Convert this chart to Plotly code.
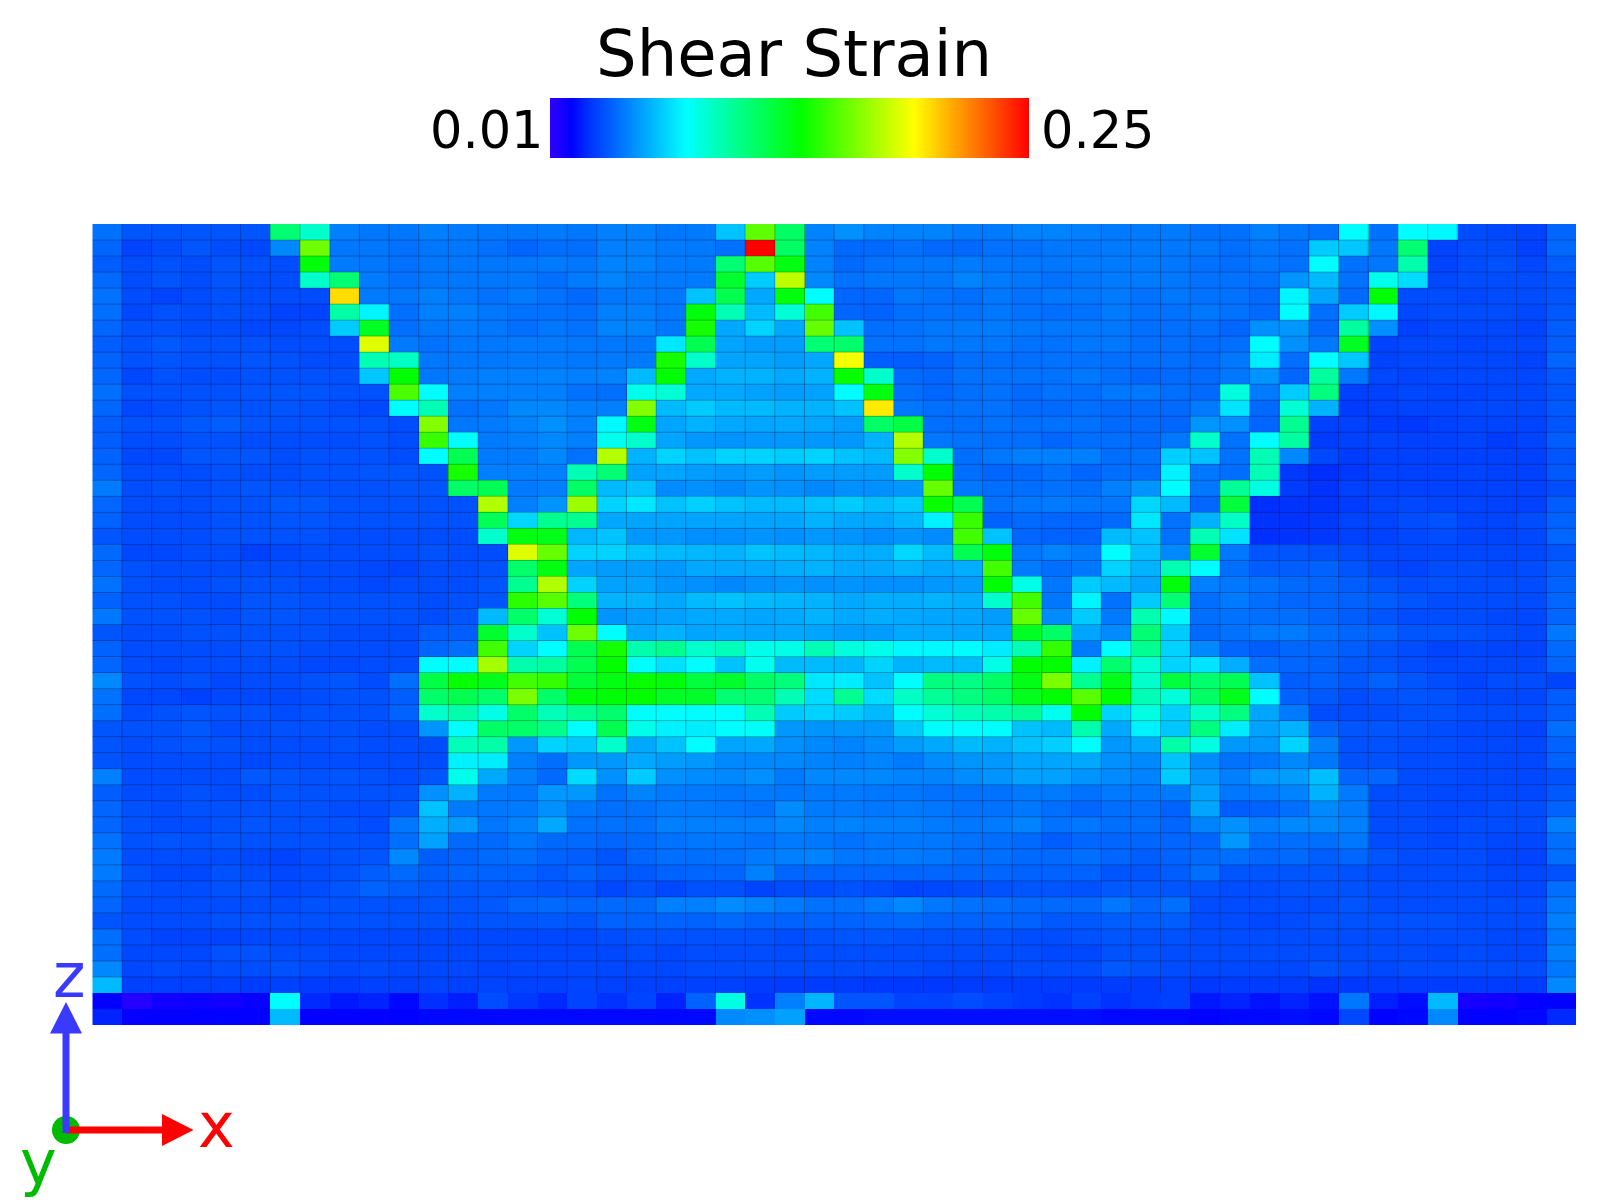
import plotly.graph_objects as go
import numpy as np

# Shear strain per cell, in thousandths (columns 0-16 | 17-33 | 34-49)
strain_milli = [
[45,38,38,38,38,38,110,90,48,46,46,48,47,46,46,47,46, 48,48,46,47,64,157,113,49,52,49,49,49,47,47,49,49,48, 47,47,47,45,45,48,46,45,78,45,78,77,36,35,34,42],
[42,34,36,38,36,35,50,160,46,46,45,46,46,45,42,44,44, 48,48,47,47,45,250,113,49,43,43,45,43,43,45,45,46,46, 47,47,46,46,44,46,45,66,65,46,110,34,36,36,33,43],
[40,36,37,36,38,37,36,133,47,46,45,46,46,46,46,47,46, 49,49,47,47,110,155,132,49,43,45,46,46,47,46,46,46,47, 47,47,46,45,44,46,45,78,45,46,97,34,36,37,35,40],
[43,36,38,36,38,36,36,90,110,47,45,46,46,46,46,44,47, 49,47,47,47,125,66,178,50,45,46,46,46,49,47,46,45,46, 47,47,46,45,45,45,53,62,45,83,70,35,36,36,36,38],
[45,36,34,36,37,36,36,36,200,47,46,48,46,45,47,45,43, 46,47,46,64,118,58,133,78,42,42,46,45,44,46,45,46,46, 47,45,46,45,45,43,76,57,43,134,36,36,35,36,36,38],
[44,35,37,36,37,36,34,34,98,76,44,48,48,46,45,45,44, 48,48,46,133,95,62,88,150,42,41,44,45,45,46,45,44,45, 47,45,45,46,45,43,78,44,66,77,35,36,36,36,35,39],
[42,37,37,36,36,35,35,36,66,128,44,46,47,46,44,46,45, 49,49,46,140,58,68,58,158,64,44,45,46,47,47,46,46,46, 46,44,44,44,42,52,54,43,100,52,33,35,35,35,34,40],
[40,37,39,37,37,37,36,36,36,185,47,45,46,46,47,47,46, 46,46,73,118,57,55,55,110,112,45,45,46,46,46,45,45,46, 46,44,44,43,44,78,52,46,128,34,35,35,34,35,35,40],
[41,37,38,37,37,38,37,36,36,95,92,46,46,46,47,47,46, 47,47,140,90,57,57,55,58,190,40,40,41,44,44,44,45,45, 44,44,44,43,46,74,44,78,65,34,35,35,35,35,34,42],
[42,35,37,36,36,37,37,37,37,65,135,46,47,48,48,49,48, 49,62,135,58,60,60,58,60,137,90,43,42,45,45,45,45,46, 44,42,43,43,46,53,42,100,46,35,34,35,35,35,35,39],
[44,37,37,37,37,38,38,38,37,37,152,78,48,48,48,48,45, 44,83,88,58,58,56,55,56,78,132,44,42,44,45,43,45,44, 46,46,44,43,86,47,66,107,33,33,35,34,34,35,35,38],
[42,35,36,37,38,37,38,37,36,35,78,95,45,46,50,50,48, 48,165,62,66,62,62,60,60,64,197,46,44,45,45,43,43,44, 43,43,43,47,72,43,88,60,32,33,34,34,35,35,35,39],
[40,37,37,39,40,38,37,37,37,37,36,165,46,47,49,52,48, 77,132,57,60,58,57,58,57,55,113,120,44,44,45,44,45,45, 43,43,42,53,52,42,103,33,33,32,31,33,34,34,34,38],
[40,36,36,37,37,36,36,36,36,37,36,148,78,47,48,50,48, 82,90,57,54,53,54,54,54,54,60,175,46,45,44,44,42,44, 44,43,46,90,45,78,100,32,33,34,33,33,34,32,34,40],
[41,35,35,38,38,38,36,37,37,37,36,78,117,47,47,50,45, 175,60,68,64,68,68,66,68,64,62,165,90,44,46,48,48,48, 44,45,67,64,45,95,50,35,32,33,33,33,33,33,33,38],
[42,36,36,36,37,36,36,37,37,38,38,37,140,48,48,48,95, 110,56,57,55,54,55,53,55,55,55,90,135,44,42,43,45,42, 44,44,75,46,44,95,31,29,31,33,33,33,34,33,33,39],
[47,36,37,36,37,38,37,37,37,37,38,38,113,117,47,48,113, 62,64,51,52,50,53,52,50,52,52,54,158,46,44,44,45,44, 48,53,78,46,102,85,32,30,33,33,33,33,33,33,33,36],
[42,36,36,36,37,37,39,39,37,37,37,37,37,175,48,53,170, 68,73,64,67,64,62,62,64,66,63,66,137,117,45,46,47,46, 46,69,62,42,122,29,30,30,32,34,35,34,34,33,33,40],
[41,36,36,36,37,37,38,38,37,37,37,37,37,116,69,103,103, 58,57,57,57,57,57,57,60,58,58,61,75,148,41,43,42,42, 43,73,45,60,92,30,30,31,34,34,36,37,34,34,36,41],
[38,36,36,36,37,37,37,37,36,36,36,36,36,90,132,130,61, 64,54,54,52,52,53,52,54,53,51,53,51,150,64,42,41,41, 62,64,45,95,72,29,30,31,33,33,35,36,34,34,35,42],
[43,35,35,36,36,33,35,36,36,36,36,37,36,36,185,158,68, 68,64,62,61,60,64,62,61,59,59,69,62,117,133,46,49,47, 78,63,50,125,46,38,38,37,36,35,35,35,35,35,35,38],
[42,37,36,36,36,36,36,36,36,35,34,36,36,37,112,132,57, 55,55,54,58,58,58,59,60,58,58,60,58,59,150,47,44,46, 68,60,96,78,44,40,40,41,38,35,34,36,36,35,36,40],
[45,37,36,36,37,37,37,36,36,35,36,36,36,38,103,175,68, 56,56,53,52,50,52,53,52,53,52,52,54,55,135,84,46,66, 62,57,133,48,46,45,43,42,40,38,36,37,36,36,36,41],
[41,37,37,36,36,38,38,37,37,37,37,36,37,38,145,155,108, 60,60,58,62,64,62,61,60,58,59,59,60,59,90,150,46,76, 45,66,110,44,47,44,42,42,41,40,38,36,36,36,36,42],
[46,37,37,37,36,38,38,37,37,37,37,36,38,62,112,88,135, 53,55,56,58,58,57,58,60,58,59,58,57,57,55,158,51,66, 47,96,77,44,45,44,44,42,40,38,36,36,36,35,35,42],
[38,36,36,37,37,37,37,37,36,36,36,40,40,125,90,64,160, 78,58,60,57,58,57,58,57,55,55,58,58,57,57,128,113,57, 51,110,66,43,45,47,47,44,42,41,38,38,37,36,35,46],
[41,36,36,36,36,37,37,36,36,36,36,42,44,150,68,78,117, 140,97,103,90,94,83,84,95,86,83,77,77,78,74,95,147,47, 78,103,68,50,42,40,42,42,40,38,36,34,35,34,34,43],
[42,36,35,36,36,36,36,35,35,36,36,78,78,172,97,100,118, 136,78,71,78,64,82,62,62,61,68,60,62,62,84,135,136,75, 111,88,68,72,59,44,42,41,39,38,36,35,35,35,35,42],
[50,37,36,37,35,36,36,37,38,36,44,120,137,130,150,147,123, 132,137,133,122,126,113,108,73,74,64,78,107,106,113,131,163,103, 130,90,122,111,117,64,40,41,39,41,38,36,34,36,36,34],
[45,35,35,33,35,35,35,36,37,37,40,112,118,112,163,112,133, 134,136,127,126,110,110,95,70,103,70,91,102,107,113,129,135,155, 136,95,87,113,130,78,41,39,36,37,38,37,35,35,35,40],
[44,36,37,38,37,37,36,37,37,37,41,90,97,84,112,94,103, 111,78,78,78,78,95,66,68,66,62,78,88,94,97,102,82,135, 68,85,67,90,107,57,47,36,36,36,37,37,36,36,36,40],
[38,37,37,39,36,36,37,37,37,36,36,53,78,113,112,104,78, 118,83,75,74,78,80,54,53,54,54,66,78,78,78,64,62,97, 58,75,65,107,74,56,60,42,38,38,37,36,35,35,34,44],
[38,36,37,38,37,36,36,36,37,36,36,36,94,98,54,68,65, 90,58,64,78,57,58,52,50,49,51,55,58,62,60,64,67,78, 54,58,98,85,54,54,68,48,37,37,36,36,35,35,35,41],
[38,36,36,36,36,35,36,36,36,36,36,36,75,74,48,44,54, 54,58,55,54,50,50,50,49,48,49,47,51,53,54,57,57,58, 52,50,64,51,45,46,50,46,37,37,36,36,35,35,35,41],
[48,36,36,36,36,39,38,37,38,37,36,38,83,58,48,43,70, 52,66,52,51,50,52,47,50,50,50,49,49,51,53,56,56,53, 51,49,66,54,48,54,55,63,42,42,36,36,35,35,35,37],
[40,36,36,37,36,36,38,37,37,37,37,52,60,47,46,54,54, 45,49,47,47,46,47,46,47,47,46,46,45,45,45,47,47,45, 47,46,47,56,46,47,49,60,47,36,36,35,35,35,35,39],
[42,37,36,37,37,37,37,37,36,36,39,64,47,46,47,52,46, 44,45,47,47,46,45,51,47,47,46,47,46,45,45,46,44,42, 44,44,41,57,40,41,44,50,47,36,36,35,35,36,36,41],
[42,37,36,36,37,38,37,37,37,36,46,59,55,46,49,58,45, 45,45,48,48,48,48,50,48,49,48,48,47,46,47,49,45,46, 44,44,42,49,52,48,50,50,48,36,36,35,36,36,36,48],
[45,37,38,37,38,37,37,37,37,37,44,56,43,43,46,43,43, 42,43,45,46,46,45,47,46,45,46,46,46,45,44,43,40,42, 42,42,42,42,54,44,44,44,46,36,36,35,36,35,35,44],
[47,36,36,36,36,35,34,36,37,38,50,40,41,43,44,41,40, 38,42,44,44,45,47,48,49,46,46,47,46,44,44,43,43,44, 42,40,41,43,44,42,43,40,42,38,36,36,36,34,34,44],
[47,37,35,35,37,36,35,36,37,40,43,40,41,41,41,39,41, 39,39,41,42,42,48,42,42,42,42,42,42,42,42,41,41,41, 38,38,40,44,38,38,38,38,37,36,36,36,36,35,35,37],
[43,37,36,36,37,37,35,36,38,41,40,39,39,39,39,38,38, 35,37,35,37,37,34,36,36,37,36,34,35,36,37,38,38,37, 39,39,38,37,36,36,37,37,37,36,36,36,36,35,35,44],
[42,36,36,36,36,36,36,37,37,37,37,38,38,39,42,43,42, 43,43,48,48,51,49,47,45,45,47,50,46,45,44,43,43,43, 46,42,44,36,36,36,36,36,38,36,36,36,36,36,36,46],
[38,36,36,36,37,37,37,37,37,37,37,37,37,38,38,39,38, 41,41,41,41,43,41,41,41,41,42,43,41,41,41,41,39,39, 40,40,40,36,36,35,36,37,37,37,37,37,36,36,36,48],
[44,36,34,34,34,35,35,35,35,35,35,35,35,35,35,35,35, 36,37,37,37,37,37,36,37,38,38,37,37,37,37,36,36,37, 38,37,37,36,36,36,36,36,36,36,36,36,36,35,35,46],
[44,35,35,35,37,37,36,36,35,35,35,35,35,35,35,35,35, 35,36,35,36,36,36,36,36,36,36,36,36,36,36,36,35,35, 37,37,36,36,36,36,36,36,36,36,36,35,36,35,35,48],
[50,35,36,35,36,36,37,36,35,36,35,35,35,34,35,35,35, 35,35,35,36,36,36,36,36,36,36,36,35,35,35,36,36,36, 39,37,36,35,35,35,35,37,36,35,36,36,36,36,36,46],
[62,33,33,33,33,32,33,32,32,33,33,34,33,34,33,33,34, 33,33,33,33,33,32,32,32,32,31,31,31,32,32,32,32,32, 32,32,33,31,32,32,32,30,31,32,32,32,32,32,32,50],
[20,13,17,18,17,19,78,28,25,27,22,29,26,36,31,28,34, 30,34,27,41,85,30,48,61,38,38,34,34,36,34,32,30,33, 30,32,33,25,27,24,27,24,46,26,23,62,16,17,20,21],
[27,20,20,20,21,20,62,20,20,20,21,22,22,22,22,22,22, 22,22,22,22,50,52,56,22,22,23,23,23,23,23,23,23,23, 22,22,22,21,22,22,23,22,35,21,22,50,21,21,22,28],
]
assert len(strain_milli) == 50 and all(len(r) == 50 for r in strain_milli)

title_text = "Shear Strain"
z_min = 0.01
z_max = 0.25
tick_low = "0.01"
tick_high = "0.25"
color_stops = [[0.0, "#3000ff"], [0.045, "#0000ff"], [0.08, "#0030ff"], [0.285, "#00ffff"],
               [0.523, "#00ff00"], [0.76, "#ffff00"], [1.0, "#ff0000"]]

W, H = 1600, 1200
def px(x): return x / W
def py(y): return 1 - y / H

z = np.array(strain_milli) / 1000.0
n_rows, n_cols = z.shape
col_pos = [c + 0.5 for c in range(n_cols)]
row_pos = [r + 0.5 for r in range(n_rows)]

grid_x, grid_y = [], []
for c in range(1, n_cols):
    grid_x += [c, c, None]; grid_y += [0, n_rows - 2, None]
for r in range(1, n_rows - 2):
    grid_x += [0, n_cols, None]; grid_y += [r, r, None]

fig = go.Figure()
fig.add_trace(go.Heatmap(
    x=col_pos, y=row_pos, z=z, zmin=z_min, zmax=z_max, colorscale=color_stops,
    colorbar=dict(orientation="h", lenmode="pixels", len=479, thickness=60,
                  thicknessmode="pixels", x=px(789.5), xanchor="center",
                  y=py(98), yanchor="top", xpad=0, ypad=0, outlinewidth=0,
                  showticklabels=False, ticks="", borderwidth=0),
))
fig.add_trace(go.Scatter(x=grid_x, y=grid_y, mode="lines", hoverinfo="skip",
                         line=dict(color="rgba(0,0,0,0.28)", width=1), showlegend=False))

FONT = "DejaVu Sans"
BLUE, RED, GREEN = "#3a3aff", "#ff0000", "#00bb00"
ox, oy = 66, 1130
shapes = [
    dict(type="circle", xref="paper", yref="paper", x0=px(ox - 14), x1=px(ox + 14),
         y0=py(oy + 14), y1=py(oy - 14), fillcolor=GREEN, line_width=0),
    dict(type="rect", xref="paper", yref="paper", x0=px(ox), x1=px(163), y0=py(oy + 3.5),
         y1=py(oy - 3.5), fillcolor=RED, line_width=0),
    dict(type="path", xref="paper", yref="paper", fillcolor=RED, line_width=0,
         path=f"M {px(162)} {py(oy-16)} L {px(193.5)} {py(oy)} L {px(162)} {py(oy+16)} Z"),
    dict(type="rect", xref="paper", yref="paper", x0=px(ox - 3.5), x1=px(ox + 3.5), y0=py(oy + 3),
         y1=py(1032), fillcolor=BLUE, line_width=0),
    dict(type="path", xref="paper", yref="paper", fillcolor=BLUE, line_width=0,
         path=f"M {px(ox-16)} {py(1033.5)} L {px(ox)} {py(1002)} L {px(ox+16)} {py(1033.5)} Z"),
]

def label(text, x, y, size, color="#000000", anchor="center"):
    return dict(text=text, x=px(x), y=py(y), xref="paper", yref="paper", showarrow=False,
                xanchor=anchor, yanchor="middle", font=dict(family=FONT, size=size, color=color))

annotations = [
    label(title_text, 794, 54, 64),
    label(tick_low, 546, 131, 51, anchor="right"),
    label(tick_high, 1039, 131, 51, anchor="left"),
    label("z", 69, 975, 62, BLUE),
    label("x", 216, 1125, 62, RED),
    label("y", 38, 1162, 62, GREEN),
]

fig.update_layout(
    width=W, height=H, margin=dict(l=0, r=0, t=0, b=0),
    paper_bgcolor="white", plot_bgcolor="white", showlegend=False,
    xaxis=dict(domain=[px(92.3), px(1576)], range=[0, n_cols], visible=False),
    yaxis=dict(domain=[py(1025), py(224)], range=[n_rows, 0], visible=False),
    shapes=shapes, annotations=annotations,
)
fig.write_html("out.html", config=dict(displayModeBar=False),
               post_script="document.body.style.margin='0';")
